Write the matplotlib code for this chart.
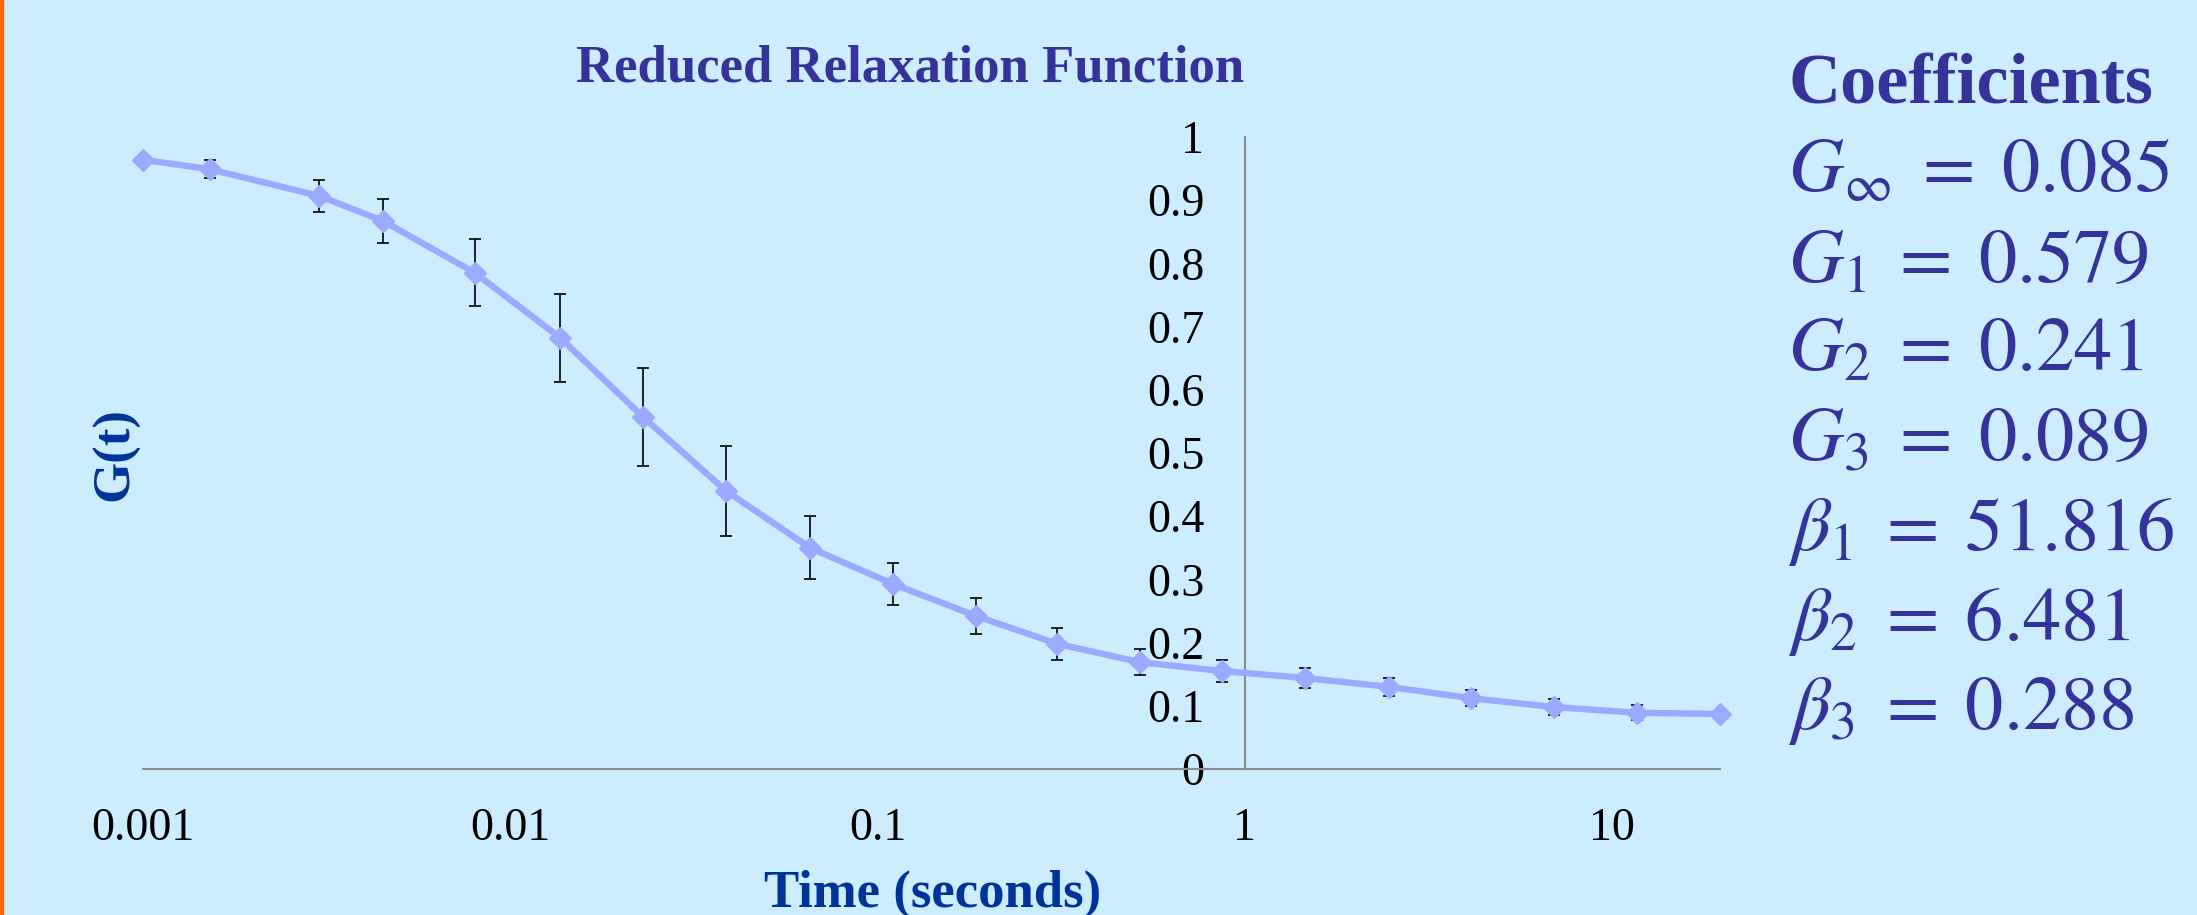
import matplotlib.pyplot as plt
import matplotlib.ticker as mticker
from matplotlib.patches import Rectangle

# data
time_s = [0.001, 0.00152, 0.00301, 0.00451, 0.00802, 0.0137, 0.0230, 0.0387,
          0.0655, 0.110, 0.186, 0.309, 0.519, 0.867, 1.46, 2.47, 4.13, 6.97,
          11.7, 19.7]
g_t = [0.964, 0.949, 0.907, 0.867, 0.785, 0.682, 0.557, 0.440, 0.350, 0.293,
       0.242, 0.198, 0.169, 0.155, 0.144, 0.130, 0.112, 0.098, 0.089, 0.087]
g_err = [0.006, 0.014, 0.025, 0.035, 0.053, 0.070, 0.078, 0.071, 0.050, 0.033,
         0.028, 0.025, 0.021, 0.018, 0.016, 0.014, 0.013, 0.012, 0.012, 0.006]

x_ticks = [0.001, 0.01, 0.1, 1, 10]
x_tick_labels = ["0.001", "0.01", "0.1", "1", "10"]
y_ticks = [0, 0.1, 0.2, 0.3, 0.4, 0.5, 0.6, 0.7, 0.8, 0.9, 1]
y_tick_labels = ["0", "0.1", "0.2", "0.3", "0.4", "0.5", "0.6", "0.7", "0.8", "0.9", "1"]

coef_names = [r"G_{\infty}", "G_1", "G_2", "G_3", r"\beta_1", r"\beta_2", r"\beta_3"]
coef_values = ["0.085", "0.579", "0.241", "0.089", "51.816", "6.481", "0.288"]

plt.rcParams["font.family"] = "Liberation Serif"
plt.rcParams["mathtext.fontset"] = "stix"

W, H = 2197, 915
bg = "#CCECFF"
fig = plt.figure(figsize=(W / 100, H / 100), dpi=100, facecolor=bg)

ax = fig.add_axes([143 / W, 1 - 769 / H, (1720 - 143) / W, (769 - 137) / H])
ax.set_facecolor("none")
ax.set_xscale("log")
ax.set_xlim(0.001, 19.7)
ax.set_ylim(0, 1)

ax.errorbar(time_s, g_t, yerr=g_err, fmt="none", ecolor="black",
            elinewidth=1.2, capsize=4.5, capthick=1.2, zorder=2, clip_on=False)
ax.plot(time_s, g_t, color="#99AAFF", lw=4.6, marker="D", ms=11,
        zorder=3, clip_on=False)

for s in ["top", "right"]:
    ax.spines[s].set_visible(False)
ax.spines["left"].set_position(("data", 1))
for s in ["left", "bottom"]:
    ax.spines[s].set_color("#8C8C8C")
    ax.spines[s].set_linewidth(1.5)

ax.xaxis.set_major_locator(mticker.FixedLocator(x_ticks))
ax.xaxis.set_major_formatter(mticker.FixedFormatter(x_tick_labels))
ax.xaxis.set_minor_locator(mticker.NullLocator())
ax.yaxis.set_major_locator(mticker.FixedLocator(y_ticks))
ax.yaxis.set_major_formatter(mticker.FixedFormatter(y_tick_labels))
ax.tick_params(axis="x", length=0, pad=28, labelsize=33)
ax.tick_params(axis="y", length=0, pad=29, labelsize=33)

fig.text(910 / W, 1 - 82 / H, "Reduced Relaxation Function", ha="center",
         va="baseline", fontsize=38, fontweight="bold", color="#333399")
fig.text(933 / W, 1 - 907 / H, "Time (seconds)", ha="center", va="baseline",
         fontsize=38, fontweight="bold", color="#003399")
fig.text(115 / W, 1 - 454 / H, "G(t)", rotation=90, ha="center", va="center",
         fontsize=38, fontweight="bold", color="#003399")

fig.text(1788 / W, 1 - 104 / H, "Coefficients", ha="left", va="baseline",
         fontsize=52, fontweight="bold", color="#333399")
for i, (name, val) in enumerate(zip(coef_names, coef_values)):
    fig.text(1788 / W, 1 - (192 + i * 89.5) / H, r"$%s\;=\;%s$" % (name, val),
             ha="left", va="baseline", fontsize=55, color="#333399")

# orange edge on the left
fig.add_artist(Rectangle((0, 0), 3 / W, 1, transform=fig.transFigure,
                         color="#FF6600", zorder=5))

fig.savefig("out.png", dpi=100, facecolor=bg)
